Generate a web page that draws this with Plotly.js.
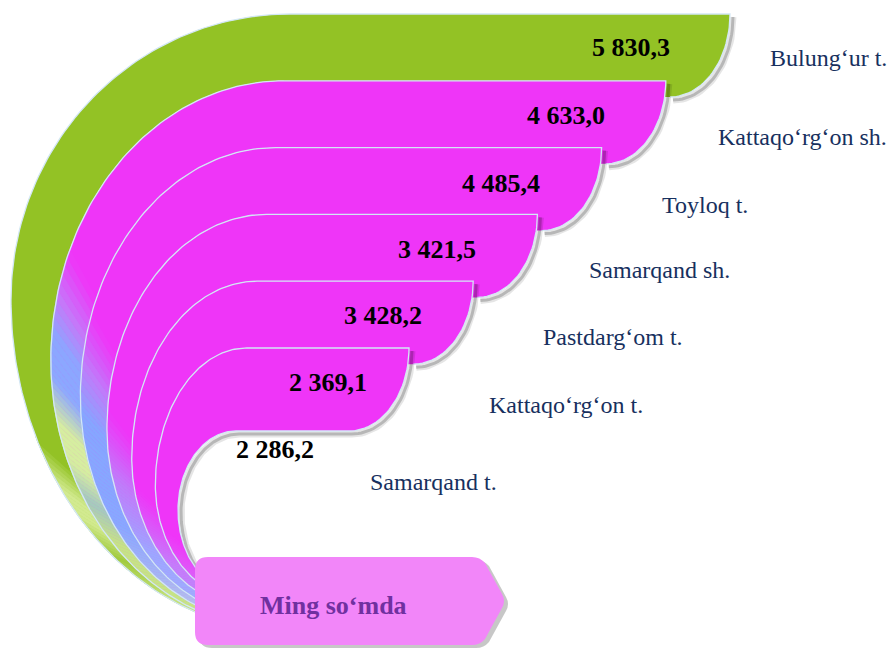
<!DOCTYPE html>
<html><head><meta charset="utf-8">
<script src="https://cdn.plot.ly/plotly-3.0.1.min.js"></script>
<style>html,body{margin:0;padding:0;background:#fff;}#chart{width:892px;height:648px;}</style>
</head><body><div id="chart"></div>
<script>
// ---------------- DATA ----------------
const regions = ["Bulung‘ur t.", "Kattaqo‘rg‘on sh.", "Toyloq t.", "Samarqand sh.", "Pastdarg‘om t.", "Kattaqo‘rg‘on t.", "Samarqand t."];
const values = [5830.3, 4633.0, 4485.4, 3421.5, 3428.2, 2369.1, 2286.2];
const unitLabel = "Ming so‘mda";

// ---------------- LAYOUT / STYLE ----------------
const W = 892, H = 648;
const MAG = '#EF35F8', GRN = '#93C225';
const geom = {top0: 14, step: 66.8, right0: 730, rstep: 64.2, endRx: 60, endRy: 83,
  outer: {S: 290, L: 11, M: 300, Px: 200, Py: 614},
  inner: {S: 236, L: 178, M: 510, Px: 230, Py: 590}};
const valuePos = [[631,47],[566,115],[501,183],[437,249],[383,315],[328,382],[275,449]];
const namePos = [[768,58],[716,137],[660,205],[587,270],[541,337],[487,405],[368,482]];
const gradStops = [
  [[0,GRN],[455,GRN],[498,'#D2EA90'],[522,'#D2EA90'],[560,'#A2CB40'],[600,'#C4E27E'],[700,'#C4E27E']],
  [[0,MAG],[275,MAG],[318,'#C47AF9'],[352,'#8CA6FF'],[392,'#8CA8FF'],[436,'#D6EEA0'],[468,'#D6EEA0'],[505,'#A4C8C0'],[545,'#C6E386'],[700,'#C6E386']],
  [[0,MAG],[335,MAG],[382,'#BE7EFA'],[425,'#86A6FF'],[525,'#88A8FF'],[600,'#B2BCEE'],[700,'#B2BCEE']],
  [[0,MAG],[425,MAG],[485,'#C07CFA'],[555,'#9CA8FF'],[700,'#A8B2FA']],
  [[0,MAG],[495,MAG],[565,'#C47EFA'],[700,'#B092FF']],
  [[0,MAG],[535,MAG],[600,'#D274F8'],[700,'#D274F8']]
];

function lerp(a,b,t){return a+(b-a)*t;}
function hex2rgb(h){return [parseInt(h.substr(1,2),16),parseInt(h.substr(3,2),16),parseInt(h.substr(5,2),16)];}
function colorAt(stops,y){
  for(let i=0;i<stops.length-1;i++){
    if(y<=stops[i+1][0]){
      const t=Math.max(0,(y-stops[i][0])/(stops[i+1][0]-stops[i][0]));
      const a=hex2rgb(stops[i][1]), b=hex2rgb(stops[i+1][1]);
      return 'rgb('+[0,1,2].map(j=>Math.round(lerp(a[j],b[j],t))).join(',')+')';
    }
  }
  return stops[stops.length-1][1];
}
function fmt(v){
  const s=v.toFixed(1).split('.');
  return s[0].replace(/\B(?=(\d{3})+(?!\d))/g,' ')+','+s[1];
}

const n = regions.length;
const nBands = n - 1;           // last category is the hollow core
function boundary(k){
  const u = k/nBands, o=geom.outer, q=geom.inner;
  const T = k<nBands ? geom.top0+geom.step*k : geom.top0+geom.step*(nBands-1)+geom.endRy;
  const S=lerp(o.S,q.S,Math.pow(u,1.2)), L=lerp(o.L,q.L,Math.pow(u,0.8)), M=lerp(o.M,q.M,Math.pow(u,0.7));
  const Px=lerp(o.Px,q.Px,Math.pow(u,1.6)), Py=lerp(o.Py,q.Py,Math.pow(u,1.6));
  const rx=S-L, ryT=M-T;
  const psiEnd=Math.acos((S-Px)/rx);
  const ryB=(Py-M)/Math.sin(psiEnd);
  function at(s){
    if(s<=0.5){ const phi=s*Math.PI; return [S-rx*Math.sin(phi), M-ryT*Math.cos(phi)]; }
    const p=(s-0.5)*2*psiEnd; return [S-rx*Math.cos(p), M+ryB*Math.sin(p)];
  }
  return {T,S,at};
}
const B=[]; for(let k=0;k<=nBands;k++) B.push(boundary(k));
const NS=140;

function rightArc(k){
  const R=geom.right0-geom.rstep*k, T=B[k].T, pts=[];
  for(let a=0;a<=90;a+=3){const r=a*Math.PI/180; pts.push([R-geom.endRx+geom.endRx*Math.cos(r), T+geom.endRy*Math.sin(r)]);}
  return pts;
}

const traces=[];
function addPoly(pts,fill,lineColor,lw){
  traces.push({type:'scatter',mode:'lines',x:pts.map(p=>p[0]),y:pts.map(p=>p[1]),fill:'toself',fillcolor:fill,
    line:{color:lineColor||fill,width:lw===undefined?0:lw},hoverinfo:'skip',showlegend:false});
}
function addLine(pts,color,w){
  traces.push({type:'scatter',mode:'lines',x:pts.map(p=>p[0]),y:pts.map(p=>p[1]),
    line:{color:color,width:w},hoverinfo:'skip',showlegend:false});
}

for(let k=0;k<nBands;k++){
  const bk=B[k], bn=B[k+1], arc=rightArc(k);
  const base = k===0?GRN:MAG;
  const bottomY = bk.T+geom.endRy;
  // shadow
  let sh = arc.map(p=>[p[0]+3,p[1]+3]);
  if(k===nBands-1){
    sh.push([bn.S+3,bottomY+3]);
    for(let j=0;j<=NS;j++){const p=bn.at(j/NS); sh.push([p[0]+3,p[1]+3]);}
  }
  addLine(sh,'rgba(0,0,0,0.10)',7);
  addLine(sh,'rgba(0,0,0,0.20)',3);
  // main fill
  const poly=[];
  for(let j=NS;j>=0;j--) poly.push(bk.at(j/NS));
  arc.forEach(p=>poly.push(p));
  poly.push([bn.S,bottomY]); poly.push([bn.S,bn.T]);
  for(let j=0;j<=NS;j++) poly.push(bn.at(j/NS));
  addPoly(poly,base);
  // gradient strips
  const NG=70, bc='rgb('+hex2rgb(base).join(',')+')';
  for(let j=0;j<NG;j++){
    const s0=0.3+0.7*j/NG, s1=0.3+0.7*(j+1)/NG;
    const a=bk.at(s0), b=bk.at(s1), c=bn.at(s1), d=bn.at(s0);
    const ym=(a[1]+b[1]+c[1]+d[1])/4;
    const col=colorAt(gradStops[k],ym);
    if(col===bc) continue;
    addPoly([a,b,c,d],col,col,0.9);
  }
  // outline
  const ol=[];
  for(let j=NS;j>=0;j--) ol.push(bk.at(j/NS));
  arc.forEach(p=>ol.push(p));
  if(k===nBands-1){ ol.push([bn.S,bottomY]); for(let j=0;j<=NS;j++) ol.push(bn.at(j/NS)); }
  addLine(ol,'#D3E7F5',1.3);
}

const annotations=[];
values.forEach((v,i)=>{
  annotations.push({x:valuePos[i][0],y:valuePos[i][1],xref:'x',yref:'y',text:'<b>'+fmt(v)+'</b>',showarrow:false,
    xanchor:'center',yanchor:'middle',font:{family:'Liberation Serif, Times New Roman, serif',size:26,color:'#000'}});
});
regions.forEach((r,i)=>{
  annotations.push({x:namePos[i][0],y:namePos[i][1],xref:'x',yref:'y',text:r,showarrow:false,
    xanchor:'left',yanchor:'middle',font:{family:'Liberation Serif, Times New Roman, serif',size:24,color:'#17305E'}});
});
annotations.push({x:333,y:605,xref:'x',yref:'y',text:'<b>'+unitLabel+'</b>',showarrow:false,xanchor:'center',yanchor:'middle',
  font:{family:'Liberation Serif, Times New Roman, serif',size:26,color:'#7030A0'}});

function boxPath(dx,dy){
  const P=(x,y)=>(x+dx)+','+(y+dy);
  return 'M '+P(208,557)+' L '+P(472,557)+' Q '+P(480,557)+' '+P(485,563)+' L '+P(502,594)+' Q '+P(506,601)+' '+P(502,608)+
    ' L '+P(485,639)+' Q '+P(480,645)+' '+P(472,645)+' L '+P(208,645)+' Q '+P(195,645)+' '+P(195,632)+' L '+P(195,570)+' Q '+P(195,557)+' '+P(208,557)+' Z';
}
const shapes=[
  {type:'path',xref:'x',yref:'y',path:boxPath(4,3),fillcolor:'rgba(0,0,0,0.22)',line:{width:0},layer:'above'},
  {type:'path',xref:'x',yref:'y',path:boxPath(0,0),fillcolor:'#F286F9',line:{width:0},layer:'above'}
];

const layout={width:W,height:H,margin:{l:0,r:0,t:0,b:0},paper_bgcolor:'#fff',plot_bgcolor:'#fff',showlegend:false,
  xaxis:{range:[0,W],visible:false,fixedrange:true},
  yaxis:{range:[H,0],visible:false,fixedrange:true},
  annotations:annotations,shapes:shapes};
Plotly.newPlot('chart',traces,layout,{staticPlot:true,displayModeBar:false});
</script></body></html>
